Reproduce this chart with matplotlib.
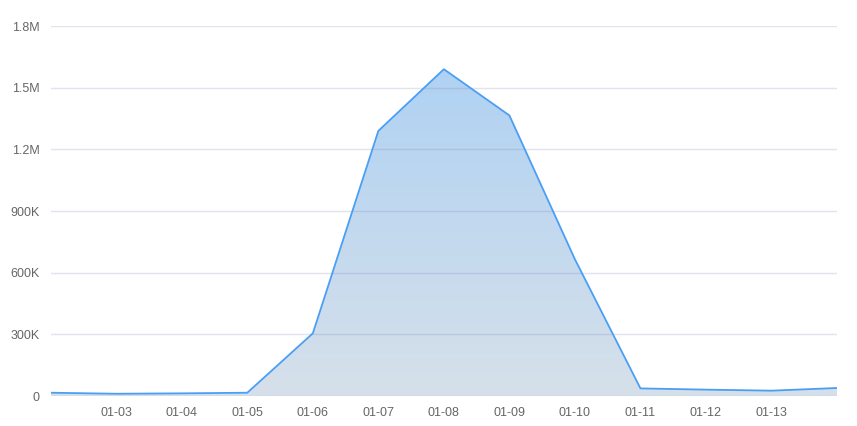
import numpy as np
import matplotlib.pyplot as plt
from matplotlib.colors import LinearSegmentedColormap
from matplotlib.ticker import FuncFormatter

plt.rcParams['font.family'] = ['Liberation Sans', 'DejaVu Sans']

# daily values, 01-02 .. 01-14
dates = ['01-02', '01-03', '01-04', '01-05', '01-06', '01-07', '01-08',
         '01-09', '01-10', '01-11', '01-12', '01-13', '01-14']
values = [16000, 11000, 13000, 16000, 305000, 1290000, 1590000,
          1365000, 665000, 37000, 31000, 26000, 39000]
tick_labels = dates[1:-1]

x = np.arange(len(dates))
y = np.array(values)

fig = plt.figure(figsize=(8.57, 4.26), dpi=100)
ax = fig.add_axes([0.0592, 0.0704, 0.9175, 0.8685])

ax.set_xlim(0, len(dates) - 1)
ax.set_ylim(0, 1800000)

# gradient fill under the line
poly = ax.fill_between(x, y, 0, color='none', lw=0)
cmap = LinearSegmentedColormap.from_list('fill', ['#d6e0ea', '#b0d2f3'])
grad = np.linspace(0, 1, 256).reshape(-1, 1)
img = ax.imshow(grad, cmap=cmap, aspect='auto', origin='lower',
                extent=[0, len(dates) - 1, 0, y.max()], zorder=1)
img.set_clip_path(poly.get_paths()[0], transform=ax.transData)

ax.plot(x, y, color='#4a9ff5', lw=1.3, zorder=3)

ax.set_yticks(np.arange(0, 1800001, 300000))
ax.yaxis.set_major_formatter(FuncFormatter(
    lambda v, p: '0' if v == 0 else (f'{v/1e6:.1f}M' if v >= 1e6 else f'{int(v/1000)}K')))
ax.set_xticks(x[1:-1])
ax.set_xticklabels(tick_labels)

ax.grid(axis='y', color='#7373b3', alpha=0.2, lw=1, zorder=2)
ax.set_axisbelow(False)
for s in ax.spines.values():
    s.set_visible(False)
ax.tick_params(axis='both', length=0, colors='#666666', labelsize=9)
ax.tick_params(axis='y', pad=8)
ax.tick_params(axis='x', pad=8)

fig.savefig('out.png', dpi=100)
